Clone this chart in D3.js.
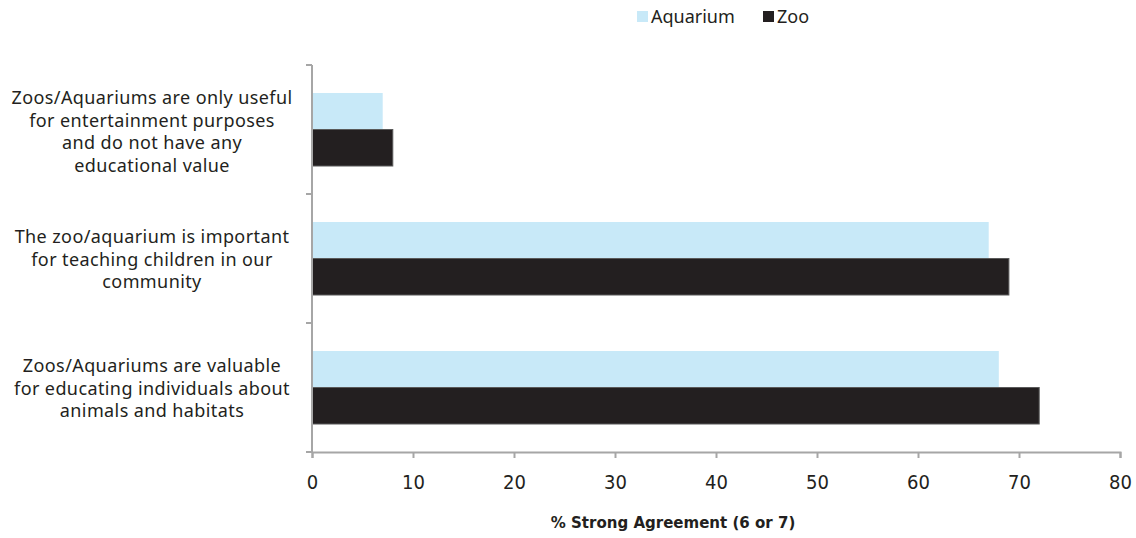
<!DOCTYPE html>
<html>
<head>
<meta charset="utf-8">
<script src="https://cdn.jsdelivr.net/npm/d3@7"></script>
<style>
  html, body { margin: 0; padding: 0; background: #fff; }
  svg { display: block; }
</style>
</head>
<body>
<svg id="chart" width="1136" height="538"></svg>
<script>
// Survey statements (top to bottom)
const categories = [
  ["Zoos/Aquariums are only useful", "for entertainment purposes", "and do not have any", "educational value"],
  ["The zoo/aquarium is important", "for teaching children in our", "community"],
  ["Zoos/Aquariums are valuable", "for educating individuals about", "animals and habitats"]
];
const seriesNames = ["Aquarium", "Zoo"];
const aquariumValues = [7, 67, 68];
const zooValues = [8, 69, 72];
const xTicks = [0, 10, 20, 30, 40, 50, 60, 70, 80];
const xTitle = "% Strong Agreement (6 or 7)";

const colors = { Aquarium: "#c8e9f8", Zoo: "#231f20" };
const axisColor = "#a6a6a6";
const labelFont = "'Noto Sans', 'DejaVu Sans', sans-serif";
const tickFont = "'DejaVu Sans Condensed', 'DejaVu Sans', sans-serif";

const svg = d3.select("#chart");
const margin = { left: 312, right: 16, top: 65, bottom: 86 };
const W = 1136, H = 538;

const x = d3.scaleLinear().domain([0, 80]).range([margin.left, W - margin.right]);
const y = d3.scaleBand()
  .domain(d3.range(categories.length))
  .range([margin.top, H - margin.bottom])
  .paddingInner(0.434)
  .paddingOuter(0.217);
const ySub = d3.scaleBand().domain(seriesNames).range([0, y.bandwidth()]);

const rows = categories.map((c, i) => ({ i, Aquarium: aquariumValues[i], Zoo: zooValues[i] }));

// Bars
const g = svg.append("g");
rows.forEach(r => {
  seriesNames.forEach(s => {
    g.append("rect")
      .attr("x", x(0))
      .attr("y", y(r.i) + ySub(s))
      .attr("width", x(r[s]) - x(0))
      .attr("height", ySub.bandwidth())
      .attr("fill", colors[s])
      .attr("stroke", s === "Zoo" ? "#5a5a5a" : "none")
      .attr("stroke-width", s === "Zoo" ? 1 : 0);
  });
});

// Y axis: line with ticks at category boundaries
const yAxisG = svg.append("g");
yAxisG.append("line")
  .attr("x1", x(0)).attr("x2", x(0))
  .attr("y1", margin.top).attr("y2", H - margin.bottom)
  .attr("stroke", axisColor).attr("stroke-width", 2);
const boundaries = d3.range(categories.length + 1).map(k => margin.top + k * y.step());
yAxisG.selectAll("line.tick").data(boundaries).join("line")
  .attr("class", "tick")
  .attr("x1", x(0) - 6).attr("x2", x(0))
  .attr("y1", d => d).attr("y2", d => d)
  .attr("stroke", axisColor).attr("stroke-width", 2);

// Category labels, centred in the left margin
const lineH = 22.6;
rows.forEach(r => {
  const lines = categories[r.i];
  const cy = y(r.i) + y.bandwidth() / 2 + (lines.length === 4 ? 2 : 1);
  const t = svg.append("text")
    .attr("text-anchor", "middle")
    .attr("font-family", labelFont)
    .attr("font-size", 18)
    .attr("letter-spacing", 0.4)
    .attr("fill", "#231f20");
  lines.forEach((ln, k) => {
    t.append("tspan")
      .attr("x", 152)
      .attr("y", cy + (k - (lines.length - 1) / 2) * lineH)
      .attr("dy", "0.35em")
      .text(ln);
  });
});

// X axis
const xAxis = d3.axisBottom(x).tickValues(xTicks).tickSize(6).tickPadding(17).tickFormat(d3.format("d"));
const xg = svg.append("g")
  .attr("transform", `translate(0,${H - margin.bottom})`)
  .call(xAxis);
xg.select(".domain").attr("stroke", axisColor).attr("stroke-width", 2);
xg.selectAll(".tick line").attr("stroke", axisColor).attr("stroke-width", 2);
xg.selectAll(".tick text")
  .attr("font-family", tickFont)
  .attr("font-size", 20)
  .attr("fill", "#231f20");

// X axis title
svg.append("text")
  .attr("x", 673).attr("y", 522)
  .attr("dy", "0.35em")
  .attr("text-anchor", "middle")
  .attr("font-family", tickFont)
  .attr("font-weight", "bold")
  .attr("font-size", 16.7)
  .attr("fill", "#231f20")
  .text(xTitle);

// Legend
const legendX = [637, 763];
seriesNames.forEach((s, k) => {
  svg.append("rect")
    .attr("x", legendX[k]).attr("y", 11)
    .attr("width", 11).attr("height", 11)
    .attr("fill", colors[s]);
  svg.append("text")
    .attr("x", legendX[k] + 14).attr("y", 17)
    .attr("dy", "0.35em")
    .attr("font-family", labelFont)
    .attr("font-size", 18)
    .attr("fill", "#231f20")
    .text(s);
});
</script>
</body>
</html>
